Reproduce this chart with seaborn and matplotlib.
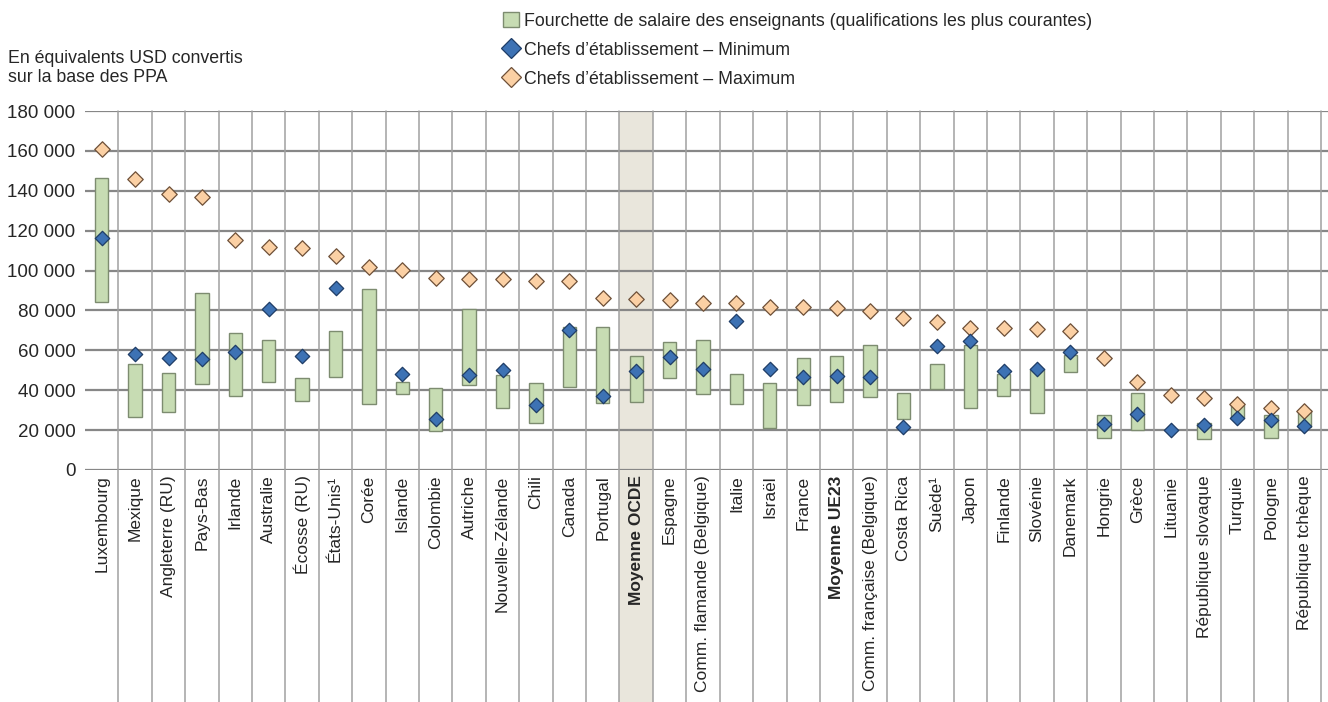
import numpy as np
import pandas as pd
import matplotlib
matplotlib.use("Agg")
import matplotlib.pyplot as plt
import seaborn as sns
from matplotlib.patches import Patch
from matplotlib.lines import Line2D
from matplotlib.ticker import FuncFormatter

# data (thousands of USD PPP)
pays = ["Luxembourg", "Mexique", "Angleterre (RU)", "Pays-Bas", "Irlande", "Australie",
        "Écosse (RU)", "États-Unis¹", "Corée", "Islande", "Colombie", "Autriche",
        "Nouvelle-Zélande", "Chili", "Canada", "Portugal", "Moyenne OCDE", "Espagne",
        "Comm. flamande (Belgique)", "Italie", "Israël", "France", "Moyenne UE23",
        "Comm. française (Belgique)", "Costa Rica", "Suède¹", "Japon", "Finlande",
        "Slovénie", "Danemark", "Hongrie", "Grèce", "Lituanie", "République slovaque",
        "Turquie", "Pologne", "République tchèque"]

ens_bas = [84.4, 26.4, 28.9, 43.0, 37.1, 44.1, 34.8, 46.8, 32.9, 38.1, 19.6, 42.6,
           31.3, 23.7, 41.5, 33.8, 34.3, 46.0, 38.1, 33.1, 21.2, 32.6, 33.9, 36.8,
           25.4, 40.5, 30.9, 37.1, 28.4, 49.3, 15.9, 20.1, np.nan, 15.4, 25.9, 16.2, 21.7]
ens_haut = [146.3, 53.2, 48.5, 88.6, 68.9, 65.2, 46.3, 69.7, 90.8, 44.1, 41.0, 80.7,
            47.5, 43.5, 71.9, 71.9, 57.3, 64.4, 65.2, 48.1, 43.5, 56.3, 57.2, 62.7,
            38.5, 53.2, 62.7, 48.1, 50.5, 57.7, 27.6, 38.8, np.nan, 23.4, 32.6, 27.6, 30.1]
chef_min = [116.2, 58.2, 56.3, 55.5, 59.0, 80.6, 57.2, 91.1, np.nan, 48.1, 25.6, 47.6,
            50.2, 32.6, 70.2, 37.1, 49.6, 56.8, 50.7, 74.9, 50.8, 46.8, 47.3, 46.8,
            21.4, 62.2, 64.7, 49.8, 50.8, 59.0, 22.9, 28.1, 20.1, 22.6, 26.2, 25.1, 22.1]
chef_max = [161.0, 145.8, 138.4, 137.0, 115.3, 112.0, 111.5, 107.3, 101.6, 100.3, 96.5, 95.8,
            95.8, 94.8, 94.8, 86.1, 85.8, 85.3, 83.6, 83.6, 81.9, 81.6, 81.1, 79.7,
            76.1, 74.4, 71.1, 71.1, 70.9, 69.7, 56.0, 44.3, 37.8, 36.3, 33.1, 30.9, 29.7]
moyennes = ["Moyenne OCDE", "Moyenne UE23"]

df = pd.DataFrame({"pays": pays,
                   "bas": np.array(ens_bas) * 1000,
                   "haut": np.array(ens_haut) * 1000,
                   "min": np.array(chef_min) * 1000,
                   "max": np.array(chef_max) * 1000})
df["pos"] = np.arange(len(df))

sns.set_style("white")
plt.rcParams["font.family"] = ["Liberation Sans", "DejaVu Sans"]

fig = plt.figure(figsize=(13.28, 7.02), dpi=100)
ax = fig.add_axes([85 / 1328, 1 - 470 / 702, 1 - 85 / 1328, 359 / 702])

grid_col = "#878787"
vgrid_col = "#a0a0a0"
n = len(df)

# OCDE band, down through the label area
i_ocde = pays.index("Moyenne OCDE")
ax.axvspan(i_ocde - 0.5, i_ocde + 0.5, ymin=-0.646, ymax=1, color="#e9e6dc",
           zorder=0, clip_on=False, lw=0)

# horizontal grid
for v in range(0, 180001, 20000):
    ax.axhline(v, color=grid_col, lw=1.6, zorder=1)

# category separators (extend below the axis)
trans = ax.get_xaxis_transform()
for b in np.arange(0.5, n, 1.0):
    ax.plot([b, b], [-0.646, 1], transform=trans, color=vgrid_col, lw=1.1,
            zorder=1, clip_on=False)

# teacher salary range as floating bars
ax.bar(df["pos"], df["haut"] - df["bas"], bottom=df["bas"], width=0.4,
       color="#c7dcb3", edgecolor="#7d8c70", linewidth=1.0, zorder=2)

sns.scatterplot(data=df, x="pos", y="max", marker="D", s=62, color="#fbd0a4",
                edgecolor="#6e5038", linewidth=0.9, zorder=3, ax=ax, legend=False)
sns.scatterplot(data=df, x="pos", y="min", marker="D", s=54, color="#3d72b4",
                edgecolor="#1e3c66", linewidth=0.9, zorder=4, ax=ax, legend=False)

ax.set_xlim(-0.5, n - 0.5 + 7 / 33.4)
ax.set_ylim(0, 180000)
ax.set_yticks(range(0, 180001, 20000))
ax.yaxis.set_major_formatter(FuncFormatter(lambda v, p: f"{v:,.0f}".replace(",", " ")))
ax.tick_params(axis="y", length=6, width=1.4, color=grid_col, labelsize=13.5, pad=1)
ax.set_xticks(df["pos"])
ax.set_xticklabels(pays, rotation=90, va="top", ha="center", fontsize=12.5)
ax.tick_params(axis="x", length=0, pad=4)
for lab in ax.get_xticklabels():
    if lab.get_text() in moyennes:
        lab.set_fontweight("bold")
ax.set_xlabel("")
ax.set_ylabel("")
for s in ax.spines.values():
    s.set_visible(False)

fig.text(8 / 1328, 1 - 50 / 702, "En équivalents USD convertis\nsur la base des PPA",
         ha="left", va="top", fontsize=12.8, linespacing=1.15)

handles = [Patch(facecolor="#c7dcb3", edgecolor="#7d8c70", lw=1.0),
           Line2D([], [], ls="", marker="D", ms=10.5, mfc="#3d72b4", mec="#1e3c66", mew=0.9),
           Line2D([], [], ls="", marker="D", ms=10.5, mfc="#fbd0a4", mec="#6e5038", mew=0.9)]
labels = ["Fourchette de salaire des enseignants (qualifications les plus courantes)",
          "Chefs d’établissement – Minimum",
          "Chefs d’établissement – Maximum"]
fig.legend(handles, labels, loc="upper left", bbox_to_anchor=(503 / 1328, 1 - 12 / 702),
           frameon=False, fontsize=12.8, handlelength=0.9, handleheight=0.9,
           handletextpad=0.3, labelspacing=0.65, borderaxespad=0, borderpad=0)

plt.savefig("out.png", dpi=100)
